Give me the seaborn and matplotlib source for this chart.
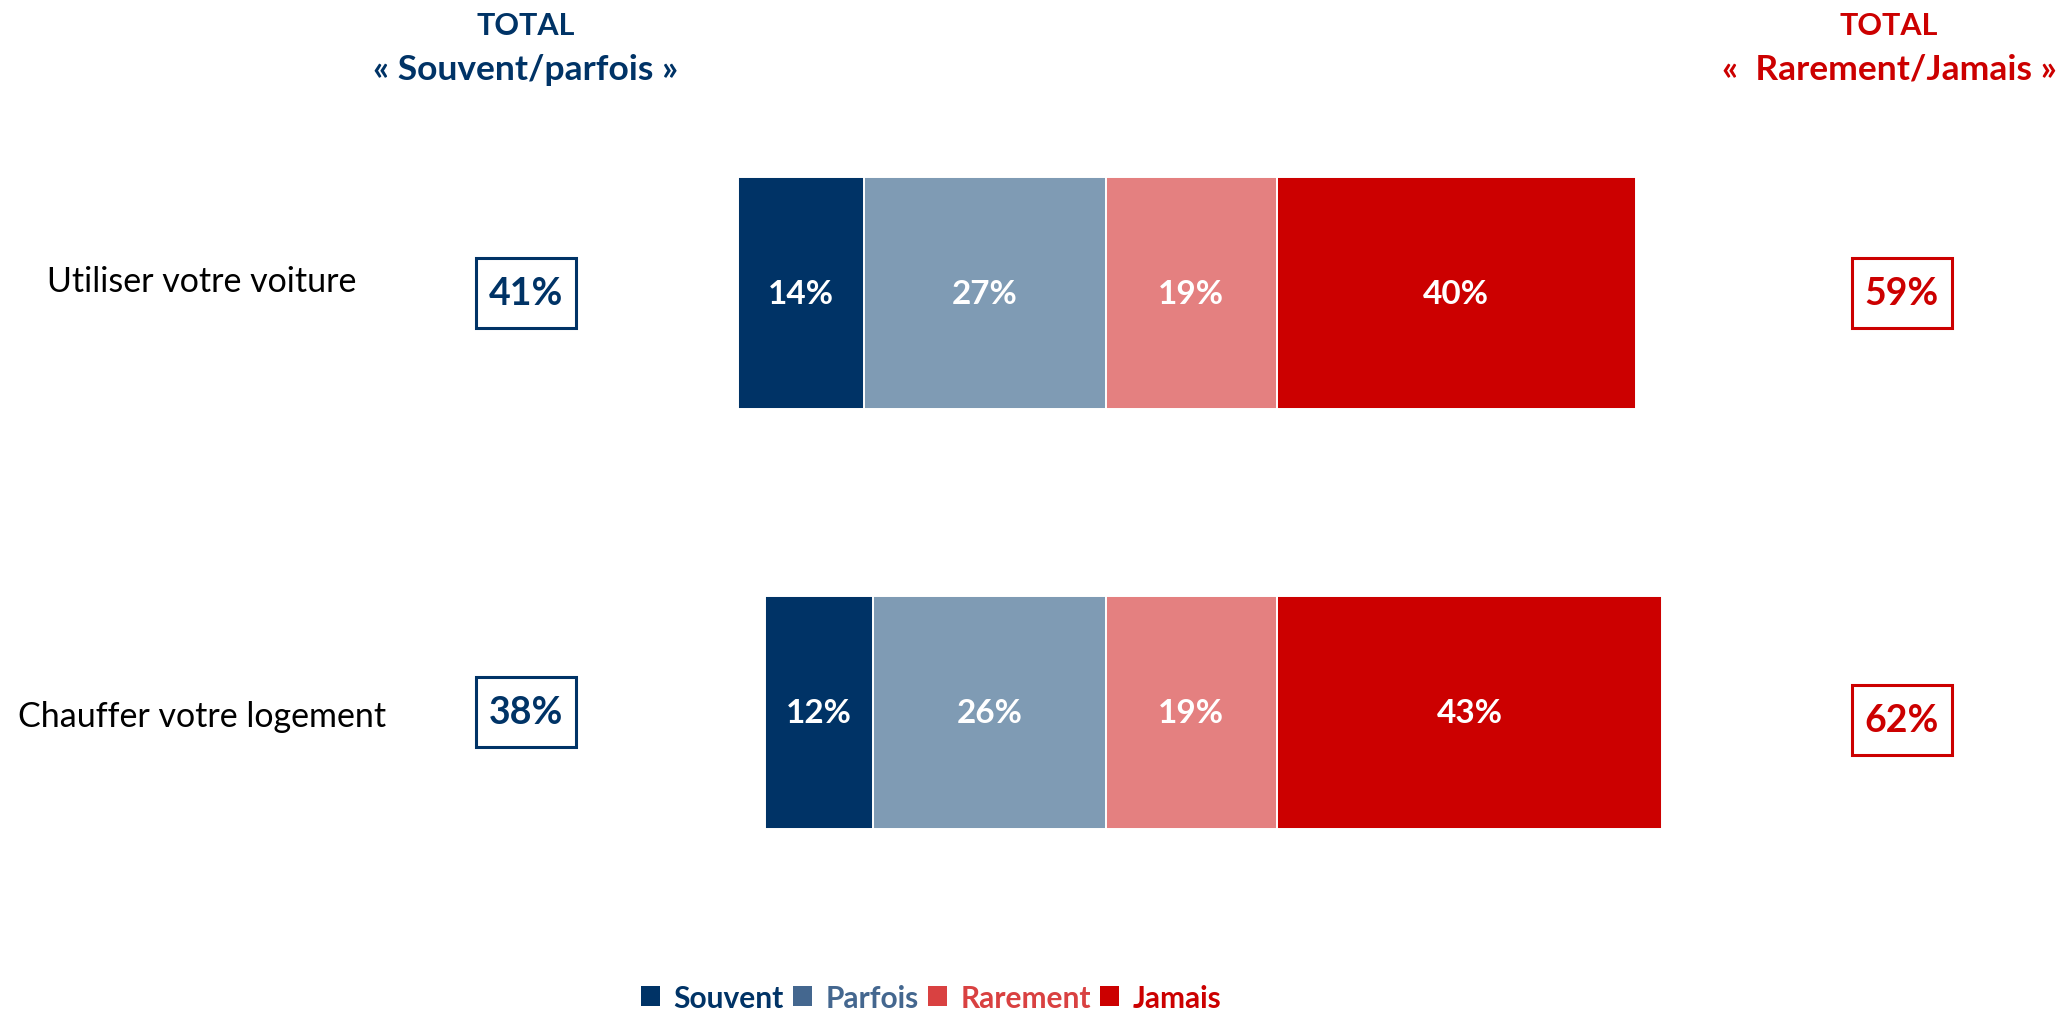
import matplotlib
matplotlib.use("Agg")
import matplotlib.pyplot as plt
from matplotlib.patches import Patch, Rectangle
import matplotlib.transforms as mtransforms
import seaborn as sns
import numpy as np
import pandas as pd

# ---- data ----
categories = ["Utiliser votre voiture", "Chauffer votre logement"]
souvent = [14, 12]
parfois = [27, 26]
rarement = [19, 19]
jamais = [40, 43]
total_sp = [41, 38]
total_rj = [59, 62]
series_names = ["Souvent", "Parfois", "Rarement", "Jamais"]
header_left = ["TOTAL", "« Souvent/parfois »"]
header_right = ["TOTAL", "«  Rarement/Jamais »"]

# ---- style ----
sns.set_theme(style="white")
plt.rcParams["font.family"] = ["Lato", "DejaVu Sans"]

C_SOUV = "#003366"
C_PARF = "#7f9bb4"
C_RARE = "#e48080"
C_JAM = "#cc0000"
L_PARF = "#44678f"
L_RARE = "#d94141"

fig = plt.figure(figsize=(20.6, 10.12), dpi=100)
ax = fig.add_axes([0, 0, 1, 1])

df = pd.DataFrame({
    "cat": categories,
    "souvent": souvent, "parfois": parfois,
    "rarement": rarement, "jamais": jamais,
})
df["neg_outer"] = -(df["souvent"] + df["parfois"])
df["neg_inner"] = -df["parfois"]
df["pos_outer"] = df["rarement"] + df["jamais"]
df["pos_inner"] = df["rarement"]

bw = 0.555
kw = dict(y="cat", orient="h", width=bw, errorbar=None, edgecolor="white",
          linewidth=1.4, ax=ax, order=categories)
sns.barplot(data=df, x="neg_outer", color=C_SOUV, saturation=1, **kw)
sns.barplot(data=df, x="neg_inner", color=C_PARF, saturation=1, **kw)
sns.barplot(data=df, x="pos_outer", color=C_JAM, saturation=1, **kw)
sns.barplot(data=df, x="pos_inner", color=C_RARE, saturation=1, **kw)

ax.set_xlim(-123.26, 106.3)
ax.set_ylim(1.713, -0.702)
ax.axis("off")

lab_fs = 24
for i in range(len(categories)):
    s, p, r, j = souvent[i], parfois[i], rarement[i], jamais[i]
    centers = [-(p + s / 2), -p / 2, r / 2, r + j / 2]
    for cx, v in zip(centers, [s, p, r, j]):
        ax.text(cx, i, f"{v}%", ha="center", va="center", color="white",
                fontsize=lab_fs, fontweight="bold")

trans = mtransforms.blended_transform_factory(ax.transAxes, ax.transData)
label_dy = [-0.03, 0.008]
box_dy_l = [0.0, 0.0]
box_dy_r = [0.0, 0.018]
bxw, bxh = 0.0485, 0.166
for i, cat in enumerate(categories):
    ax.text(0.098, i + label_dy[i], cat, transform=trans, ha="center", va="center",
            fontsize=24.5, color="black")
    for xc, dy, val, col in [(0.2552, box_dy_l[i], total_sp[i], C_SOUV),
                             (0.9232, box_dy_r[i], total_rj[i], C_JAM)]:
        ax.add_patch(Rectangle((xc - bxw / 2, i + dy - bxh / 2), bxw, bxh,
                               transform=trans, facecolor="white", edgecolor=col,
                               linewidth=2.2, zorder=3))
        ax.text(xc, i + dy, f"{val}%", transform=trans, ha="center", va="center",
                fontsize=27, fontweight="bold", color=col, zorder=4)

ax.text(0.255, 0.974, header_left[0], transform=ax.transAxes, ha="center", va="center",
        fontsize=22, fontweight="bold", color=C_SOUV)
ax.text(0.255, 0.931, header_left[1], transform=ax.transAxes, ha="center", va="center",
        fontsize=25.5, fontweight="bold", color=C_SOUV)
ax.text(0.917, 0.974, header_right[0], transform=ax.transAxes, ha="center", va="center",
        fontsize=22, fontweight="bold", color=C_JAM)
ax.text(0.917, 0.931, header_right[1], transform=ax.transAxes, ha="center", va="center",
        fontsize=25.5, fontweight="bold", color=C_JAM)

leg_cols = [C_SOUV, L_PARF, L_RARE, C_JAM]
handles = [Patch(facecolor=c, edgecolor="none", label=n) for c, n in zip(leg_cols, series_names)]
leg = ax.legend(handles=handles, loc="center", bbox_to_anchor=(0.452, 0.013),
                ncol=4, frameon=False, handlelength=0.65, handleheight=0.65,
                handletextpad=0.45, columnspacing=0.3, labelcolor=leg_cols,
                prop={"family": ["Lato", "DejaVu Sans"], "weight": "bold", "size": 21.5})

fig.savefig("out.png", dpi=100, facecolor="white")
